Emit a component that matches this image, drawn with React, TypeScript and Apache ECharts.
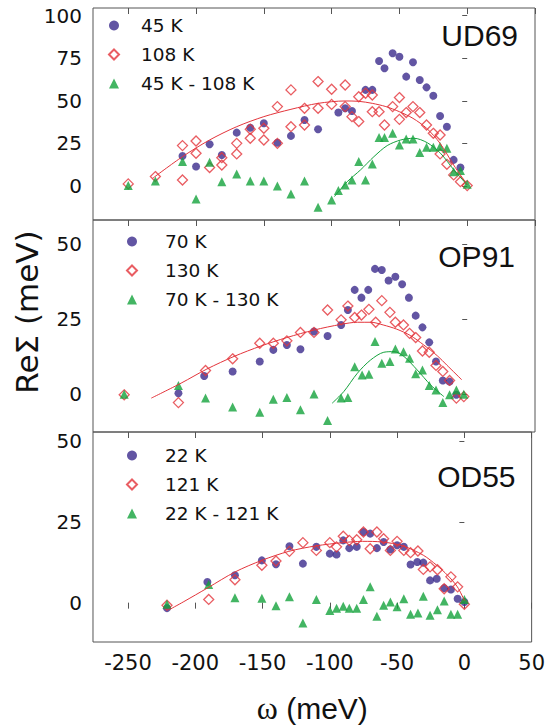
import React, { useEffect, useRef } from "react";
import * as echarts from "echarts";

// ---------- data ----------
const X_TICKS = [-250, -200, -150, -100, -50, 0, 50];
const Y_TICKS_UD69 = [0, 25, 50, 75, 100];
const Y_TICKS_OP91 = [0, 25, 50];
const Y_TICKS_OD55 = [0, 25, 50];
const PANEL_NAMES = ["UD69", "OP91", "OD55"];
const SERIES_NAMES = [
  ["45 K", "108 K", "45 K - 108 K"],
  ["70 K", "130 K", "70 K - 130 K"],
  ["22 K", "121 K", "22 K - 121 K"],
];

// UD69
const ud69Low = [
  [-210, 17.6], [-200, 11.4], [-190, 24.5], [-181, 18.2], [-170, 31.3], [-160, 34.2], [-150, 36.8],
  [-140, 25.4], [-130, 29.4], [-120, 38.7], [-110, 33.3], [-95, 43.1], [-90, 45.6], [-85, 44.0],
  [-75, 56.4], [-70, 56.4], [-65, 73.4], [-61, 69.1], [-55, 77.9], [-50, 75.9], [-45, 64.2],
  [-40, 72.6], [-35, 62.2], [-30, 57.9], [-25, 53.0], [-20, 41.1], [-15, 34.8], [-10, 15.3], [-5, 10.8],
];
const ud69High = [
  [-250, 1.2], [-230, 5.5], [-210, 23.7], [-210, 3.5], [-200, 26.4], [-200, 19.2], [-190, 10.8],
  [-181, 16.6], [-181, 12.3], [-170, 25.0], [-170, 18.8], [-160, 33.3], [-160, 28.0], [-150, 33.9],
  [-150, 27.0], [-140, 46.6], [-140, 25.0], [-130, 56.4], [-130, 34.8], [-120, 45.6], [-120, 35.8],
  [-110, 61.3], [-110, 45.6], [-100, 56.8], [-100, 47.9], [-90, 59.3], [-90, 46.6], [-85, 40.7],
  [-80, 52.4], [-80, 37.8], [-75, 54.4], [-70, 53.4], [-70, 43.6], [-65, 43.6], [-61, 35.8],
  [-55, 46.6], [-50, 51.9], [-50, 39.1], [-45, 43.1], [-40, 46.6], [-35, 43.1], [-30, 35.8],
  [-25, 30.9], [-20, 29.9], [-20, 18.8], [-15, 12.7], [-10, 6.5], [-5, 2.5], [0, 0.2],
];
const ud69Diff = [
  [-250, 0.2], [-230, 2.9], [-210, 14.3], [-200, -7.6], [-190, 13.9], [-181, 2.5], [-170, 7.0],
  [-160, 2.9], [-150, 2.9], [-140, 0.0], [-130, -4.7], [-120, 2.9], [-110, -12.5], [-100, -8.2],
  [-95, -2.7], [-90, 0.6], [-85, 3.5], [-80, 14.3], [-75, 3.5], [-70, 12.9], [-65, 28.4],
  [-61, 28.4], [-55, 30.9], [-50, 24.1], [-45, 27.6], [-40, 27.6], [-35, 19.6], [-30, 22.7],
  [-25, 22.7], [-20, 23.1], [-15, 22.1], [-10, 8.4], [-5, 9.0], [0, 1.0],
];
const ud69HighFit = [
  [-232, 4.5], [-210, 17.2], [-190, 27], [-170, 34.8], [-150, 40.7], [-130, 45], [-110, 48.5],
  [-90, 49.9], [-80, 49.7], [-70, 48.5], [-60, 46.6], [-50, 43.6], [-40, 39.7], [-30, 33.9],
  [-20, 25], [-10, 12.3], [0, 0.6],
];
const ud69DiffFit = [
  [-98, -6.3], [-88.5, 2.5], [-78.7, 9.4], [-68.8, 17.2], [-59, 23.7], [-49, 27], [-39.3, 28],
  [-29.5, 25.4], [-19.7, 19.2], [-9.8, 9.4], [0, 0.6],
];

// OP91
const op91Low = [
  [-213, 0.3], [-194, 6.1], [-173, 7.6], [-153, 10.9], [-143, 14.8], [-133, 16.4], [-123, 15.0],
  [-113, 20.9], [-103, 19.4], [-93, 23.1], [-88, 28.1], [-83, 34.8], [-78, 32.2], [-73, 34.8],
  [-68, 41.8], [-63, 41.4], [-58, 37.9], [-53, 39.2], [-48, 36.7], [-43, 32.2], [-38, 26.2],
  [-33, 22.3], [-28, 17.3], [-23, 10.9], [-18, 4.6], [-13, 4.2], [-8, -0.2],
];
const op91High = [
  [-253, -0.2], [-213, -2.8], [-193, 7.9], [-173, 11.8], [-153, 17.0], [-143, 17.0], [-133, 17.8],
  [-123, 20.6], [-113, 20.6], [-103, 28.1], [-93, 24.8], [-88, 29.4], [-83, 25.6], [-78, 26.4],
  [-72.5, 28.3], [-67.5, 24.0], [-63, 31.2], [-57, 27.3], [-53, 24.0], [-47, 23.1], [-42.5, 20.3],
  [-38, 18.9], [-33, 14.4], [-28, 14.0], [-23, 9.6], [-18, 7.6], [-13, 4.6], [-8, -1.3], [-2.5, -0.8],
];
const op91Diff = [
  [-253, 0], [-213, 2.9], [-193, -1.3], [-173, -4.3], [-153, -6.0], [-143, -1.7], [-133, -1.1],
  [-123, -5.2], [-113, 0.1], [-103, -8.8], [-93, -1.3], [-88, -1.1], [-83, 9.2], [-77.5, 6.4],
  [-72.5, 6.7], [-68, 17.6], [-63, 10.3], [-57, 10.9], [-53, 15.1], [-47, 14.2], [-42.5, 12.0],
  [-38, 6.8], [-33, 8.1], [-28, 2.9], [-23, 1.4], [-18, -2.8], [-13, -0.2], [-8, 1.4], [-2.5, 0],
];
const op91HighFit = [
  [-233, -1.3], [-211, 3.7], [-192, 8.4], [-172, 12.6], [-152, 16.1], [-133, 18.9], [-113, 21.4],
  [-93, 23.3], [-81, 24], [-71, 24], [-62, 23.1], [-52, 21.7], [-42, 19.6], [-32, 16.4],
  [-22, 12.8], [-15, 9.7], [-4, 4.8],
];
const op91DiffFit = [
  [-99.6, -3], [-91, 0.9], [-81, 7], [-71.3, 11.4], [-61.5, 14], [-54, 14.2], [-46.7, 12.6],
  [-36.9, 8.1], [-27, 3.1], [-17.2, -0.8],
];

// OD55
const od55Low = [
  [-221, -1.7], [-191, 6.4], [-170.5, 8.5], [-150.5, 13.1], [-140, 11.9], [-130, 17.5], [-120, 12.1],
  [-110, 17.3], [-100, 15.2], [-95, 14.9], [-90, 19.3], [-85.5, 16.9], [-80, 17.3], [-75, 21.9],
  [-70, 21.4], [-65, 16.9], [-60, 18.8], [-55, 16.5], [-50, 17.8], [-45, 17.3], [-40, 11.8],
  [-35, 12.6], [-30.5, 12.4], [-25.5, 6.9], [-20.5, 7.4], [-15, 4.5], [-10, 4.1], [-5, 1.2], [0, 0.2],
];
const od55High = [
  [-221, -0.8], [-190, 1.0], [-170.5, 7.1], [-150.5, 11.6], [-140, 12.9], [-130, 15.9], [-120, 18.6],
  [-110, 16.2], [-100, 18.6], [-95, 17.3], [-90, 20.6], [-85.5, 19.3], [-80, 19.5], [-75, 21.9],
  [-70, 16.7], [-65, 21.9], [-60, 19.8], [-55, 16.2], [-50, 19.0], [-45, 16.2], [-40, 15.5],
  [-34.5, 16.0], [-30.5, 10.3], [-25.5, 11.1], [-20, 10.2], [-15, 4.3], [-10, 8.0], [-5, 4.9], [0, -0.5],
];
const od55Diff = [
  [-221, -0.5], [-190, 5.6], [-170.5, 1.5], [-150.5, 1.4], [-140, -1.0], [-130, 1.8], [-120, -6.3],
  [-110, 1.0], [-100, -2.4], [-95, -1.7], [-90, -1.1], [-85.5, -1.7], [-80, -1.7], [-75, 1.0],
  [-70, 4.9], [-65, -4.2], [-60, -0.8], [-55, 0.2], [-50, -1.3], [-45, 1.2], [-40, -3.6],
  [-34.5, -3.2], [-30.5, 2.0], [-25.5, -3.9], [-20, -2.2], [-15, 0.5], [-10, -3.6], [-5, -3.6], [0, 1.0],
];
const od55HighFit = [
  [-219.4, -2.2], [-209, 0.2], [-190.7, 4.6], [-170.5, 9.5], [-150.6, 13.1], [-130.5, 15.9],
  [-110.3, 17.6], [-90.4, 18.6], [-75.7, 19], [-60.9, 18.8], [-45.7, 17.6], [-30.5, 14.7],
  [-20.6, 11.6], [-12.5, 8.5], [-5.2, 4.9], [0, 0.7],
];

const LOW = [ud69Low, op91Low, od55Low];
const HIGH = [ud69High, op91High, od55High];
const DIFF = [ud69Diff, op91Diff, od55Diff];
const HIGH_FIT = [ud69HighFit, op91HighFit, od55HighFit];
const DIFF_FIT = [ud69DiffFit, op91DiffFit, null];
const Y_TICKS = [Y_TICKS_UD69, Y_TICKS_OP91, Y_TICKS_OD55];

// ---------- styles / layout ----------
const BLUE = "#3b2a8c";
const RED = "#e3343b";
const GREEN = "#14a23c";
const FONT = "Liberation Sans, Arial, Helvetica, sans-serif";
const WIDE_FONT = "DejaVu Sans, Liberation Sans, sans-serif";
const GRID_LEFT = 93;
const GRID_WIDTH = 442;
const GRIDS = [
  { top: 8, height: 212, min: -20, max: 104.5 },
  { top: 220, height: 212, min: -12.6, max: 58.1 },
  { top: 432, height: 210, min: -12.2, max: 52.9 },
];
const LEGENDS = [
  { left: 108, top: 16, pad: 17 },
  { left: 126, top: 232, pad: 23 },
  { left: 126, top: 446, pad: 23 },
];
const TITLE_POS = [
  { x: 518, y: 35 },
  { x: 515, y: 256.5 },
  { x: 515.5, y: 476 },
];

export default function App() {
  const ref = useRef<HTMLDivElement>(null);
  useEffect(() => {
    if (!ref.current) return;
    const chart = echarts.init(ref.current, null, { renderer: "svg" });

    const grid = GRIDS.map((g) => ({
      left: GRID_LEFT,
      width: GRID_WIDTH,
      top: g.top,
      height: g.height,
      show: true,
      borderColor: "#555",
      borderWidth: 1,
      backgroundColor: "transparent",
    }));

    const xAxis: any[] = [];
    GRIDS.forEach((g, i) => {
      const isLast = i === GRIDS.length - 1;
      xAxis.push({
        type: "value",
        gridIndex: i,
        position: "bottom",
        min: -276,
        max: 50,
        axisLine: { show: false },
        splitLine: { show: false },
        axisTick: isLast
          ? { show: true, inside: false, length: 6, customValues: X_TICKS, lineStyle: { color: "#555" } }
          : { show: false },
        axisLabel: isLast
          ? { show: true, customValues: X_TICKS, fontSize: 21, color: "#111", fontFamily: WIDE_FONT, margin: 10 }
          : { show: false },
        name: isLast ? "{w|ω} (meV)" : "",
        nameLocation: "middle",
        nameGap: 50,
        nameTextStyle: {
          fontSize: 30,
          color: "#111",
          fontFamily: FONT,
          rich: { w: { fontSize: 32, fontFamily: "Liberation Serif, DejaVu Serif, serif", color: "#111" } },
        },
      });
    });
    GRIDS.forEach((g, i) => {
      xAxis.push({
        type: "value",
        gridIndex: i,
        position: "top",
        min: -276,
        max: 50,
        axisLine: { show: false },
        splitLine: { show: false },
        axisTick: { show: true, inside: true, length: 6, customValues: X_TICKS, lineStyle: { color: "#555" } },
        axisLabel: { show: false },
      });
    });

    const yAxis = GRIDS.map((g, i) => ({
      type: "value",
      gridIndex: i,
      min: g.min,
      max: g.max,
      axisLine: { show: false },
      splitLine: { show: false },
      axisTick: { show: true, inside: false, length: 5, customValues: Y_TICKS[i], lineStyle: { color: "#555" } },
      axisLabel: { show: true, customValues: Y_TICKS[i], fontSize: 20, color: "#111", fontFamily: WIDE_FONT, margin: 11 },
    }));

    const series: any[] = [];
    GRIDS.forEach((g, i) => {
      const [nLow, nHigh, nDiff] = SERIES_NAMES[i];
      series.push({
        name: nLow,
        type: "scatter",
        xAxisIndex: i,
        yAxisIndex: i,
        data: LOW[i],
        symbol: "circle",
        symbolSize: 8,
        itemStyle: { color: BLUE },
      });
      series.push({
        name: nHigh,
        type: "scatter",
        xAxisIndex: i,
        yAxisIndex: i,
        data: HIGH[i],
        symbol: "diamond",
        symbolSize: 10,
        itemStyle: { color: "rgba(255,255,255,0)", borderColor: RED, borderWidth: 1.3 },
      });
      series.push({
        type: "line",
        xAxisIndex: i,
        yAxisIndex: i,
        data: HIGH_FIT[i],
        showSymbol: false,
        smooth: 0.3,
        lineStyle: { color: RED, width: 1 },
      });
      if (DIFF_FIT[i]) {
        series.push({
          type: "line",
          xAxisIndex: i,
          yAxisIndex: i,
          data: DIFF_FIT[i],
          showSymbol: false,
          smooth: 0.3,
          lineStyle: { color: GREEN, width: 1 },
        });
      }
      series.push({
        name: nDiff,
        type: "scatter",
        xAxisIndex: i,
        yAxisIndex: i,
        data: DIFF[i],
        symbol: "triangle",
        symbolSize: 9,
        itemStyle: { color: GREEN },
      });
    });

    const legend = LEGENDS.map((l, i) => ({
      data: SERIES_NAMES[i],
      left: l.left,
      top: l.top,
      orient: "vertical",
      padding: 0,
      itemGap: 10,
      itemWidth: 10,
      itemHeight: 10,
      selectedMode: false,
      textStyle: { fontSize: 18.5, color: "#111", fontFamily: WIDE_FONT, padding: [0, 0, 0, l.pad] },
    }));

    const graphic: any[] = PANEL_NAMES.map((name, i) => ({
      type: "text",
      x: TITLE_POS[i].x,
      y: TITLE_POS[i].y,
      style: {
        text: name,
        fontSize: 30,
        fontFamily: FONT,
        fill: "#111",
        align: "right",
        verticalAlign: "middle",
      },
    }));
    graphic.push({
      type: "text",
      x: 27,
      y: 312,
      rotation: Math.PI / 2,
      style: {
        text: "ReΣ (meV)",
        fontSize: 31,
        fontFamily: WIDE_FONT,
        fill: "#111",
        align: "center",
        verticalAlign: "middle",
      },
    });

    chart.setOption({
      animation: false,
      backgroundColor: "#fff",
      grid,
      xAxis,
      yAxis,
      series,
      legend,
      graphic,
    });
    return () => chart.dispose();
  }, []);

  return (
    <div
      ref={ref}
      style={{ position: "fixed", left: 0, top: 0, width: 548, height: 725, background: "#fff" }}
    />
  );
}
